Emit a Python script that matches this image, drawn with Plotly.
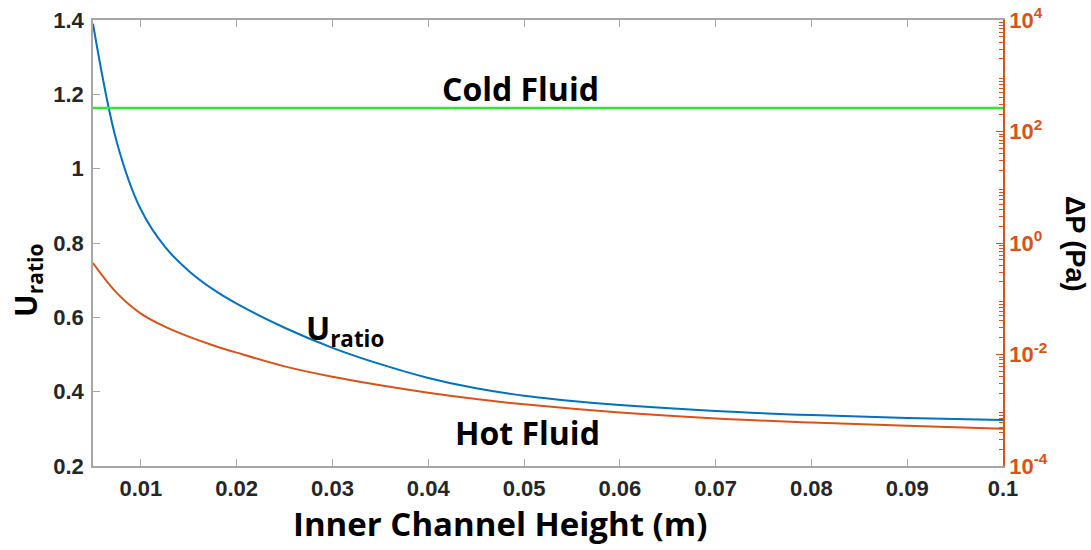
import plotly.graph_objects as go

# Inner channel height (m) vs U_ratio (left axis)
height_u = [0.005, 0.0075, 0.010, 0.0125, 0.015, 0.0175, 0.020, 0.025, 0.030, 0.035,
            0.040, 0.045, 0.050, 0.055, 0.060, 0.070, 0.080, 0.090, 0.100]
u_ratio = [1.39, 1.07, 0.89, 0.79, 0.725, 0.676, 0.637, 0.572, 0.518, 0.474,
           0.437, 0.409, 0.389, 0.375, 0.364, 0.348, 0.337, 0.329, 0.324]

# Hot fluid pressure drop (Pa, right log axis)
height_dp = [0.005, 0.0075, 0.010, 0.0125, 0.015, 0.0175, 0.020, 0.025, 0.030, 0.035,
             0.040, 0.045, 0.050, 0.060, 0.070, 0.080, 0.090, 0.100]
dp_hot = [0.4365, 0.1259, 0.0541, 0.0316, 0.0209, 0.01468, 0.0108, 0.00612, 0.00398, 0.00280,
          0.00206, 0.001585, 0.001279, 0.000912, 0.000713, 0.000603, 0.000525, 0.000464]

# Cold fluid pressure drop (Pa, right log axis)
height_cold = [0.005, 0.100]
dp_cold = [263, 263]

x_ticks = [0.01, 0.02, 0.03, 0.04, 0.05, 0.06, 0.07, 0.08, 0.09, 0.1]
x_ticktext = ["0.01", "0.02", "0.03", "0.04", "0.05", "0.06", "0.07", "0.08", "0.09", "0.1"]
y_ticks = [0.2, 0.4, 0.6, 0.8, 1.0, 1.2, 1.4]
y_ticktext = ["0.2", "0.4", "0.6", "0.8", "1", "1.2", "1.4"]
y2_ticks = [1e-4, 1e-2, 1, 1e2, 1e4]
y2_ticktext = ["10<sup>-4</sup>", "10<sup>-2</sup>", "10<sup>0</sup>", "10<sup>2</sup>", "10<sup>4</sup>"]

BLUE = "#0072BD"
ORANGE = "#D95319"
GREEN = "#33E633"
GREY = "#A6A6A6"
TICKFONT = dict(family="Liberation Sans, Arial", size=22, color="#262626", weight="bold")
LABELFONT = dict(family="Open Sans, Lato", size=32, color="black", weight="bold")

minor_vals = []
for e in range(-4, 4):
    for m in range(2, 10):
        minor_vals.append(m * 10 ** e)

fig = go.Figure()
fig.add_trace(go.Scatter(x=height_u, y=u_ratio, mode="lines", line=dict(color=BLUE, width=2, shape="spline"),
                         yaxis="y", showlegend=False))
fig.add_trace(go.Scatter(x=height_dp, y=dp_hot, mode="lines", line=dict(color=ORANGE, width=2, shape="spline"),
                         yaxis="y2", showlegend=False))
fig.add_trace(go.Scatter(x=height_cold, y=dp_cold, mode="lines", line=dict(color=GREEN, width=2.5),
                         yaxis="y2", showlegend=False))

fig.update_layout(
    width=1091, height=550,
    margin=dict(l=93, r=88, t=20, b=84),
    paper_bgcolor="white", plot_bgcolor="white",
    xaxis=dict(range=[0.005, 0.1], tickvals=x_ticks, ticktext=x_ticktext, automargin=False,
               ticks="inside", ticklen=7, tickcolor=GREY, showline=True, linecolor=GREY, linewidth=1.5,
               mirror="ticks", showgrid=False, zeroline=False, tickfont=TICKFONT, ticklabelstandoff=2),
    yaxis=dict(range=[0.2, 1.4], tickvals=y_ticks, ticktext=y_ticktext, automargin=False,
               ticks="inside", ticklen=7, tickcolor=GREY, showline=True, linecolor=GREY, linewidth=1.5,
               showgrid=False, zeroline=False, tickfont=TICKFONT, ticklabelstandoff=3),
    yaxis2=dict(type="log", range=[-4, 4], overlaying="y", side="right", automargin=False,
                tickvals=y2_ticks, ticktext=y2_ticktext,
                ticks="inside", ticklen=7, tickcolor=ORANGE, showline=True, linecolor=ORANGE, linewidth=1.5,
                showgrid=False, zeroline=False,
                tickfont=dict(family="Liberation Sans, Arial", size=22, color=ORANGE, weight="bold"),
                minor=dict(tickvals=minor_vals, ticks="inside", ticklen=4, tickcolor=ORANGE, showgrid=False)),
    annotations=[
        dict(text="Cold Fluid", x=0.0496, y=1.217, xref="x", yref="y",
             showarrow=False, font=LABELFONT),
        dict(text="U<sub>ratio</sub>", x=0.0313, y=0.565, xref="x", yref="y", showarrow=False, font=LABELFONT),
        dict(text="Hot Fluid", x=0.0504, y=0.291, xref="x", yref="y", showarrow=False, font=LABELFONT),
        dict(text="Inner Channel Height (m)", x=0.447, xref="paper", y=0, yref="paper",
             yanchor="middle", yshift=-57, showarrow=False, font=dict(LABELFONT, size=33)),
        dict(text="U<sub>ratio</sub>", x=0, xref="paper", y=0.415, yref="paper", xanchor="center",
             xshift=-66, textangle=-90, showarrow=False, font=dict(LABELFONT, size=30)),
        dict(text="ΔP (Pa)", x=1.0, xref="paper", y=0.5, yref="paper", xanchor="center", xshift=72,
             textangle=90, showarrow=False,
             font=dict(family="Liberation Sans, Arial", size=27, color="black", weight="bold")),
    ],
)

fig.write_html("out.html")
